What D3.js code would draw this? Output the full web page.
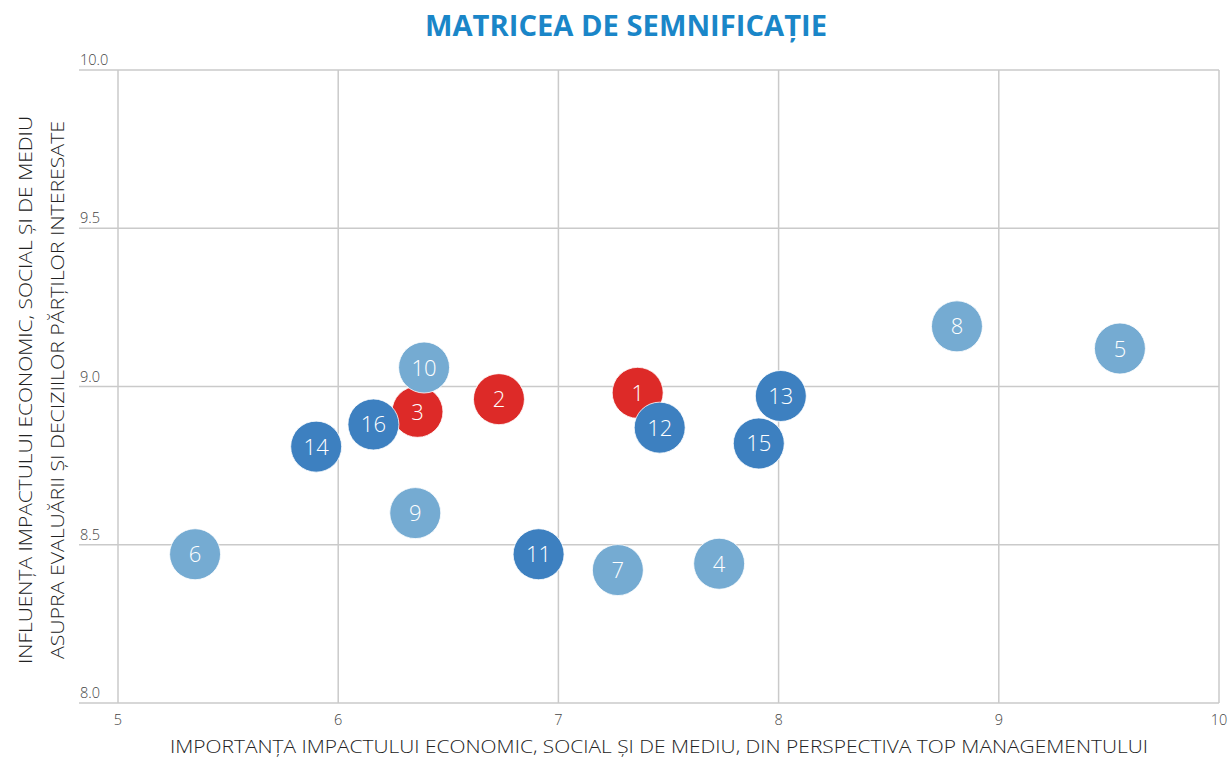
<!DOCTYPE html>
<html>
<head>
<meta charset="utf-8">
<script src="https://cdn.jsdelivr.net/npm/d3@7"></script>
<style>
	body { margin: 0; background: #fff; }
	svg text { font-family: "Open Sans", "Lato", sans-serif; }
</style>
</head>
<body>
<div id="chart"></div>
<script>
// drawing order follows the picture (13 sits on top of 15)
var ids    = [1, 2, 3, 4, 5, 6, 7, 8, 9, 10, 11, 12, 14, 15, 13, 16];
var xVals  = [7.36, 6.73, 6.36, 7.73, 9.55, 5.35, 7.27, 8.81, 6.35, 6.39, 6.91, 7.46, 5.90, 7.91, 8.01, 6.16];
var yVals  = [8.98, 8.96, 8.92, 8.44, 9.12, 8.47, 8.42, 9.19, 8.60, 9.06, 8.47, 8.87, 8.81, 8.82, 8.97, 8.88];
var groups = ["red", "red", "red", "light", "light", "light", "light", "light", "light", "light",
              "dark", "dark", "dark", "dark", "dark", "dark"];

var xTicks = [5, 6, 7, 8, 9, 10];
var yTicks = [8.0, 8.5, 9.0, 9.5, 10.0];

var title  = "MATRICEA DE SEMNIFICAȚIE";
var xTitle = "IMPORTANȚA IMPACTULUI ECONOMIC, SOCIAL ȘI DE MEDIU, DIN PERSPECTIVA TOP MANAGEMENTULUI";
var yTitle = ["INFLUENȚA IMPACTULUI ECONOMIC, SOCIAL ȘI DE MEDIU",
              "ASUPRA EVALUĂRII ȘI DECIZIILOR PĂRȚILOR INTERESATE"];

var colors = { red: "#dd2a28", dark: "#3d80c0", light: "#75abd2" };

var W = 1229, H = 758;
var plot = { left: 118, right: 1219, top: 70, bottom: 703 };

var svg = d3.select("#chart").append("svg")
	.attr("width", W)
	.attr("height", H);

var x = d3.scaleLinear().domain([5, 10]).range([plot.left, plot.right]);
var y = d3.scaleLinear().domain([8, 10]).range([plot.bottom, plot.top]);

// title
svg.append("text")
	.attr("x", 626)
	.attr("y", 36)
	.attr("text-anchor", "middle")
	.attr("textLength", 402)
	.attr("lengthAdjust", "spacingAndGlyphs")
	.style("font-size", "28px")
	.style("font-weight", 700)
	.style("fill", "#1a86c8")
	.text(title);

// grid
var grid = svg.append("g").attr("class", "grid");

grid.selectAll(".vline")
	.data(xTicks)
	.enter().append("line")
	.attr("x1", d => x(d))
	.attr("x2", d => x(d))
	.attr("y1", plot.top)
	.attr("y2", plot.bottom)
	.style("stroke", "#cacaca")
	.style("stroke-width", 1.5);

grid.selectAll(".hline")
	.data(yTicks)
	.enter().append("line")
	.attr("x1", 79)
	.attr("x2", plot.right)
	.attr("y1", d => y(d))
	.attr("y2", d => y(d))
	.style("stroke", "#cacaca")
	.style("stroke-width", 1.5);

// tick labels
svg.selectAll(".ytick")
	.data(yTicks)
	.enter().append("text")
	.attr("x", 80)
	.attr("y", d => y(d) - 5)
	.style("font-size", "14.5px")
	.style("font-weight", 300)
	.style("fill", "#444")
	.text(d => d.toFixed(1));

svg.selectAll(".xtick")
	.data(xTicks)
	.enter().append("text")
	.attr("x", d => x(d))
	.attr("y", 725)
	.attr("text-anchor", "middle")
	.style("font-size", "14.5px")
	.style("font-weight", 300)
	.style("fill", "#444")
	.text(d => d);

// axis titles
svg.append("text")
	.attr("x", 659)
	.attr("y", 753)
	.attr("text-anchor", "middle")
	.attr("textLength", 978)
	.attr("lengthAdjust", "spacingAndGlyphs")
	.style("font-size", "19px")
	.style("font-weight", 300)
	.style("fill", "#222")
	.text(xTitle);

var yLens = [548, 538];

svg.selectAll(".ytitle")
	.data(yTitle)
	.enter().append("text")
	.attr("transform", (d, i) => "translate(" + (32 + i * 32) + ",390) rotate(-90)")
	.attr("text-anchor", "middle")
	.attr("textLength", (d, i) => yLens[i])
	.attr("lengthAdjust", "spacingAndGlyphs")
	.style("font-size", "18px")
	.style("font-weight", 300)
	.style("fill", "#222")
	.text(d => d);

// bubbles
var data = ids.map((id, i) => ({ id: id, x: xVals[i], y: yVals[i], group: groups[i] }));

var dots = svg.selectAll(".dot")
	.data(data)
	.enter().append("g")
	.attr("class", "dot")
	.attr("transform", d => "translate(" + x(d.x) + "," + y(d.y) + ")");

dots.append("circle")
	.attr("r", 25.5)
	.style("fill", d => colors[d.group])
	.style("stroke", "#fff")
	.style("stroke-width", 0.8);

dots.append("text")
	.attr("y", 8)
	.attr("text-anchor", "middle")
	.style("font-size", "22px")
	.style("font-weight", 300)
	.style("fill", "#fff")
	.text(d => d.id);
</script>
</body>
</html>
